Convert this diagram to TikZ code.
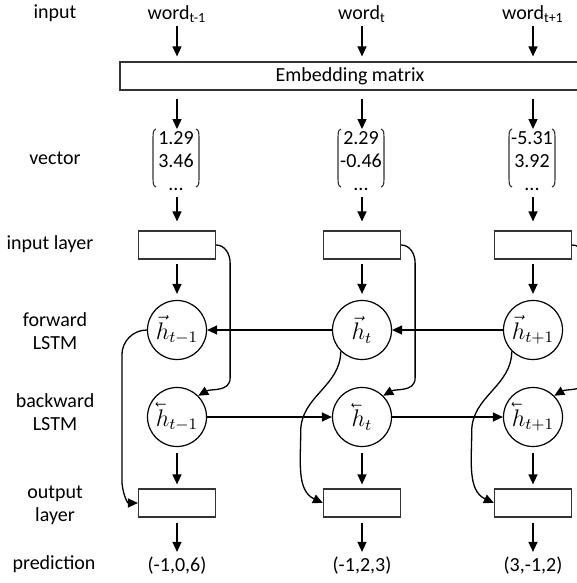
\documentclass[tikz,border=0pt]{standalone}
\usepackage{fontspec}
\setmainfont{Carlito}
\usepackage{amsmath}
\usetikzlibrary{arrows.meta,calc}
\newcommand{\fwdh}{\vec{h}}
\newcommand{\bwdh}{\mathord{\rlap{\reflectbox{$\vec{\phantom{h}}$}}h}}
\begin{document}
\begin{tikzpicture}[x=0.5pt,y=0.5pt,
  every node/.style={font=\fontsize{10}{11.5}\selectfont, inner sep=0pt},
  lbl/.style={align=center},
  box/.style={draw=black!80, line width=0.6pt, minimum width=38.5pt, minimum height=14pt},
  cell/.style={draw, circle, line width=0.6pt, minimum size=29.5pt, font=\fontsize{11.5}{13}\selectfont},
  arr/.style={-{Triangle[length=5pt,width=4.5pt]}, line width=0.65pt},
  paren/.style={line width=0.55pt, black!80}]
\useasboundingbox (0,0) rectangle (577,-583);
\clip (0,0) rectangle (577,-583);

% left labels
\node[lbl] (Linput) at (55,-13) {input};
\node[lbl] (Lvector) at (55,-158) {vector};
\node[lbl] (Linlayer) at (50,-244) {input layer};
\node[lbl] (Lfwd) at (55,-331) {forward\\LSTM};
\node[lbl] (Lbwd) at (55,-412) {backward\\LSTM};
\node[lbl] (Lout) at (55,-505) {output\\layer};
\node[lbl] (Lpred) at (54,-564) {prediction};

% words
\node (w1) at (177,-14) {word\textsubscript{t-1}};
\node (w2) at (362,-14) {word\textsubscript{t}};
\node (w3) at (533,-14) {word\textsubscript{t+1}};

% embedding
\node[box, minimum width=230pt] (emb) at (350,-76) {Embedding matrix};

% vectors
\node[lbl] (v1) at (176,-161) {1.29\\3.46\\...};
\node[lbl] (v2) at (361,-161) {2.29\\-0.46\\...};
\node[lbl] (v3) at (532,-161) {-5.31\\3.92\\...};
\foreach \v in {v1,v2,v3}{
  \begin{scope}[shift={(\v)}]
    \draw[paren] (-20,32) to[out=200,in=90] (-23,24) -- (-23,-18) to[out=-90,in=160] (-20,-26);
    \draw[paren] (20,32) to[out=-20,in=90] (23,24) -- (23,-18) to[out=-90,in=20] (20,-26);
  \end{scope}
}

% layers
\foreach \i/\c in {1/177,2/362,3/533}{
  \node[box] (ib\i) at (\c,-245) {};
  \node[box] (ob\i) at (\c,-503) {};
}
\node[cell] (f1) at (177,-330) {$\fwdh_{t-1}$};
\node[cell] (f2) at (362,-330) {$\fwdh_{t}$};
\node[cell] (f3) at (533,-330) {$\fwdh_{t+1}$};
\node[cell] (b1) at (177,-417) {$\bwdh_{t-1}$};
\node[cell] (b2) at (362,-417) {$\bwdh_{t}$};
\node[cell] (b3) at (533,-417) {$\bwdh_{t+1}$};

% predictions
\node (p1) at (177,-566) {(-1,0,6)};
\node (p2) at (362,-566) {(-1,2,3)};
\node (p3) at (533,-566) {(3,-1,2)};

% vertical arrows
\foreach \i in {1,2,3}{
  \draw[arr, shorten <=1.5pt, shorten >=2.5pt] (w\i.south -| ib\i) -- (emb.north -| ib\i);
  \draw[arr, shorten <=4pt] (emb.south -| ib\i) -- ($(v\i.north -| ib\i)+(0,2)$);
  \draw[arr, shorten <=2pt, shorten >=4.5pt] ($(v\i.south -| ib\i)+(0,-2)$) -- (ib\i.north);
  \draw[arr, shorten <=2pt, shorten >=3pt] (ib\i.south) -- (f\i.north);
  \draw[arr, shorten <=3pt, shorten >=2pt] (b\i.south) -- (ob\i.north);
  \draw[arr, shorten <=2.5pt, shorten >=2.5pt] (ob\i.south) -- (p\i.north);
  % input layer to backward cell
  \draw[arr] (ib\i.east) to[out=0,in=90] ($(ib\i.east)+(14,-18)$)
     -- ($(ib\i.east)+(14,-133)$) to[out=-90,in=30] (b\i.45);
}

% recurrent connections
\draw[arr] (f2.west) -- (f1.east);
\draw[arr] (f3.west) -- (f2.east);
\draw[arr] (b1.east) -- (b2.west);
\draw[arr] (b2.east) -- (b3.west);

% forward cell to output layer
\draw[arr] (f1.west) to[out=180,in=90] ($(f1.west)+(-25,-25)$)
   -- ($(f1.west)+(-25,-150)$) to[out=-90,in=180] (ob1.west);
\draw[arr] (f2.-135) to[out=-90,in=90] ($(f2.-135)+(-40,-80)$)
   to[out=-90,in=155] (ob2.west);
\draw[arr] (f3.-135) to[out=-90,in=90] ($(f3.-135)+(-40,-80)$)
   to[out=-90,in=155] (ob3.west);
\end{tikzpicture}
\end{document}
